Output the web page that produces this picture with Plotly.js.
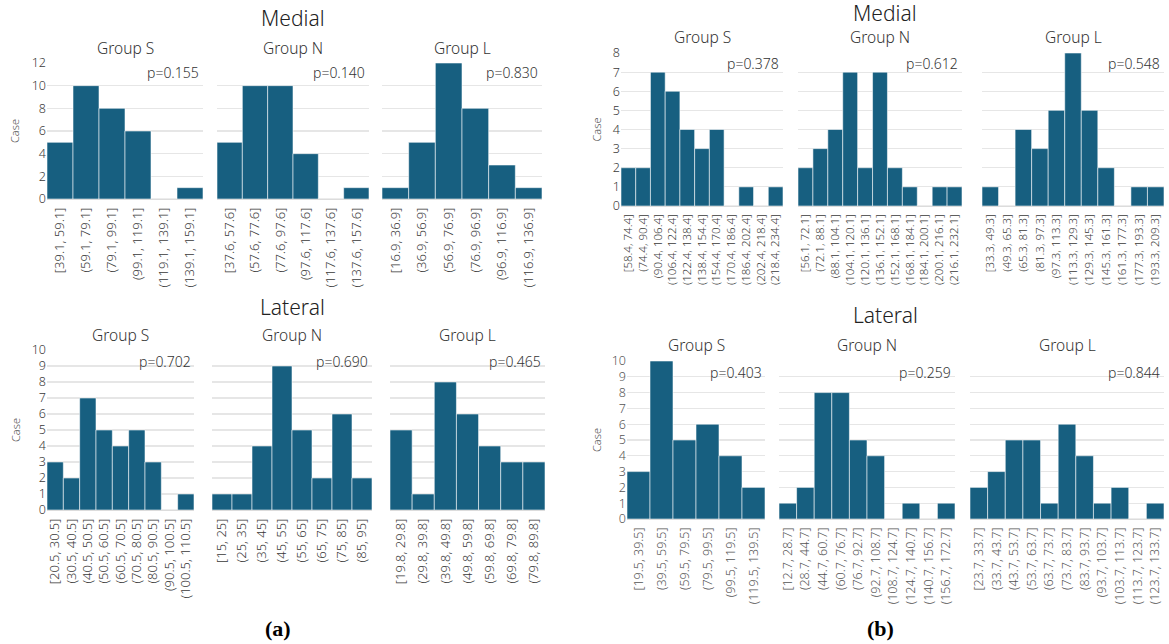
<!DOCTYPE html>
<html>
<head>
<meta charset="utf-8">
<script src="https://cdn.plot.ly/plotly-3.0.1.min.js"></script>
<style>html,body{margin:0;padding:0;background:#fff;}#chart{width:1169px;height:644px;}</style>
</head>
<body>
<div id="chart"></div>
<script>
// ---------- DATA ----------
// (a) Medial
const aMedS_bins = ["[39.1, 59.1]","(59.1, 79.1]","(79.1, 99.1]","(99.1, 119.1]","(119.1, 139.1]","(139.1, 159.1]"];
const aMedS_counts = [5,10,8,6,0,1];
const aMedN_bins = ["[37.6, 57.6]","(57.6, 77.6]","(77.6, 97.6]","(97.6, 117.6]","(117.6, 137.6]","(137.6, 157.6]"];
const aMedN_counts = [5,10,10,4,0,1];
const aMedL_bins = ["[16.9, 36.9]","(36.9, 56.9]","(56.9, 76.9]","(76.9, 96.9]","(96.9, 116.9]","(116.9, 136.9]"];
const aMedL_counts = [1,5,12,8,3,1];
const aMed_p = ["p=0.155","p=0.140","p=0.830"];
// (a) Lateral
const aLatS_bins = ["[20.5, 30.5]","(30.5, 40.5]","(40.5, 50.5]","(50.5, 60.5]","(60.5, 70.5]","(70.5, 80.5]","(80.5, 90.5]","(90.5, 100.5]","(100.5, 110.5]"];
const aLatS_counts = [3,2,7,5,4,5,3,0,1];
const aLatN_bins = ["[15, 25]","(25, 35]","(35, 45]","(45, 55]","(55, 65]","(65, 75]","(75, 85]","(85, 95]"];
const aLatN_counts = [1,1,4,9,5,2,6,2];
const aLatL_bins = ["[19.8, 29.8]","(29.8, 39.8]","(39.8, 49.8]","(49.8, 59.8]","(59.8, 69.8]","(69.8, 79.8]","(79.8, 89.8]"];
const aLatL_counts = [5,1,8,6,4,3,3];
const aLat_p = ["p=0.702","p=0.690","p=0.465"];
// (b) Medial
const bMedS_bins = ["[58.4, 74.4]","(74.4, 90.4]","(90.4, 106.4]","(106.4, 122.4]","(122.4, 138.4]","(138.4, 154.4]","(154.4, 170.4]","(170.4, 186.4]","(186.4, 202.4]","(202.4, 218.4]","(218.4, 234.4]"];
const bMedS_counts = [2,2,7,6,4,3,4,0,1,0,1];
const bMedN_bins = ["[56.1, 72.1]","(72.1, 88.1]","(88.1, 104.1]","(104.1, 120.1]","(120.1, 136.1]","(136.1, 152.1]","(152.1, 168.1]","(168.1, 184.1]","(184.1, 200.1]","(200.1, 216.1]","(216.1, 232.1]"];
const bMedN_counts = [2,3,4,7,2,7,2,1,0,1,1];
const bMedL_bins = ["[33.3, 49.3]","(49.3, 65.3]","(65.3, 81.3]","(81.3, 97.3]","(97.3, 113.3]","(113.3, 129.3]","(129.3, 145.3]","(145.3, 161.3]","(161.3, 177.3]","(177.3, 193.3]","(193.3, 209.3]"];
const bMedL_counts = [1,0,4,3,5,8,5,2,0,1,1];
const bMed_p = ["p=0.378","p=0.612","p=0.548"];
// (b) Lateral
const bLatS_bins = ["[19.5, 39.5]","(39.5, 59.5]","(59.5, 79.5]","(79.5, 99.5]","(99.5, 119.5]","(119.5, 139.5]"];
const bLatS_counts = [3,10,5,6,4,2];
const bLatN_bins = ["[12.7, 28.7]","(28.7, 44.7]","(44.7, 60.7]","(60.7, 76.7]","(76.7, 92.7]","(92.7, 108.7]","(108.7, 124.7]","(124.7, 140.7]","(140.7, 156.7]","(156.7, 172.7]"];
const bLatN_counts = [1,2,8,8,5,4,0,1,0,1];
const bLatL_bins = ["[23.7, 33.7]","(33.7, 43.7]","(43.7, 53.7]","(53.7, 63.7]","(63.7, 73.7]","(73.7, 83.7]","(83.7, 93.7]","(93.7, 103.7]","(103.7, 113.7]","(113.7, 123.7]","(123.7, 133.7]"];
const bLatL_counts = [2,3,5,5,1,6,4,1,2,0,1];
const bLat_p = ["p=0.403","p=0.259","p=0.844"];

const groupNames = ["Group S","Group N","Group L"];
const sectionTitles = ["Medial","Lateral"];
const panelLabels = ["(a)","(b)"];
const yLabel = "Case";

// ---------- LAYOUT (pixel geometry) ----------
const W = 1169, H = 644;
const FONT = "Noto Sans, sans-serif";
const BAR = "#175f80";

const rows = [
  {ypx:[63,199], ymax:12, dtick:2, xs:[[47,203],[217,369],[382,542]],
   data:[[aMedS_bins,aMedS_counts],[aMedN_bins,aMedN_counts],[aMedL_bins,aMedL_counts]], p:aMed_p,
   title:sectionTitles[0], titleY:18, titleX:293, groupY:48, tickSize:13, tickColor:"#3a3a3a"},
  {ypx:[350,510], ymax:10, dtick:1, xs:[[47,194],[212,372],[390,545]],
   data:[[aLatS_bins,aLatS_counts],[aLatN_bins,aLatN_counts],[aLatL_bins,aLatL_counts]], p:aLat_p,
   title:sectionTitles[1], titleY:307, titleX:292, groupY:335, tickSize:13, tickColor:"#3a3a3a"},
  {ypx:[53,206], ymax:8, dtick:1, xs:[[621,783],[798,962],[982,1164]],
   data:[[bMedS_bins,bMedS_counts],[bMedN_bins,bMedN_counts],[bMedL_bins,bMedL_counts]], p:bMed_p,
   title:sectionTitles[0], titleY:13, titleX:885, groupY:37, tickSize:11.5, tickColor:"#3a3a3a"},
  {ypx:[361,519], ymax:10, dtick:1, xs:[[627,765],[779,955],[970,1164]],
   data:[[bLatS_bins,bLatS_counts],[bLatN_bins,bLatN_counts],[bLatL_bins,bLatL_counts]], p:bLat_p,
   title:sectionTitles[1], titleY:315, titleX:885, groupY:345, tickSize:12.5, tickColor:"#555"}
];

const traces = [];
const layout = {
  width: W, height: H,
  margin: {l:0, r:0, t:0, b:0},
  paper_bgcolor: "#fff", plot_bgcolor: "#fff",
  showlegend: false,
  bargap: 0,
  font: {family: FONT, color: "#333", weight: "normal"},
  annotations: []
};

let k = 0;
rows.forEach((row, ri) => {
  const yd = [1 - row.ypx[1]/H, 1 - row.ypx[0]/H];
  row.xs.forEach((xp, ci) => {
    k++;
    const sfx = k === 1 ? "" : String(k);
    const [bins, counts] = row.data[ci];
    traces.push({
      type: "bar", x: bins, y: counts,
      xaxis: "x" + sfx, yaxis: "y" + sfx,
      marker: {color: BAR, line: {color: "rgba(255,255,255,0.55)", width: 1}},
      hoverinfo: "x+y"
    });
    layout["xaxis" + sfx] = {
      domain: [xp[0]/W, xp[1]/W], anchor: "y" + sfx, type: "category",
      tickmode: "array", tickvals: bins, ticktext: bins,
      tickangle: -90, showgrid: false, zeroline: false, showline: false,
      ticks: "", ticklen: 0, ticklabelstandoff: 5,
      tickfont: {size: row.tickSize, color: row.tickColor, family: FONT, weight: 300},
      fixedrange: true
    };
    layout["yaxis" + sfx] = {
      domain: yd, anchor: "x" + sfx, range: [0, row.ymax], dtick: row.dtick, tick0: 0,
      showgrid: true, gridcolor: "#e6e6e6", gridwidth: 1.2,
      zeroline: true, zerolinecolor: "#dcdcdc", zerolinewidth: 1.2,
      showline: false, ticks: "",
      showticklabels: ci === 0,
      tickfont: {size: 12.5, color: row.tickColor, family: FONT, weight: 300},
      fixedrange: true
    };
    layout.annotations.push({
      text: groupNames[ci], xref: "paper", yref: "paper",
      x: (xp[0] + xp[1]) / 2 / W, y: 1 - row.groupY / H,
      xanchor: "center", yanchor: "middle", showarrow: false,
      font: {size: 15.5, color: "#333", family: FONT, weight: 300}
    });
    layout.annotations.push({
      text: row.p[ci], xref: "x" + sfx + " domain", yref: "y" + sfx + " domain",
      x: 0.99, y: 0.93, xanchor: "right", yanchor: "middle", showarrow: false,
      font: {size: 14, color: "#333", family: FONT, weight: 300}
    });
  });
  layout.annotations.push({
    text: row.title, xref: "paper", yref: "paper",
    x: row.titleX / W, y: 1 - row.titleY / H,
    xanchor: "center", yanchor: "middle", showarrow: false,
    font: {size: 21, color: "#222", family: FONT, weight: 300}
  });
  layout.annotations.push({
    text: yLabel, xref: "paper", yref: "paper",
    x: (ri < 2 ? 15 : 596) / W, y: 1 - (row.ypx[0] + row.ypx[1]) / 2 / H,
    xanchor: "center", yanchor: "middle", textangle: -90, showarrow: false,
    font: {size: 11, color: "#555", family: FONT, weight: 300}
  });
});

[[278, panelLabels[0]], [880, panelLabels[1]]].forEach(([px, t]) => {
  layout.annotations.push({
    text: "<b>" + t + "</b>", xref: "paper", yref: "paper",
    x: px / W, y: 1 - 628 / H, xanchor: "center", yanchor: "middle", showarrow: false,
    font: {size: 22, color: "#000", family: "Liberation Serif, DejaVu Serif, serif"}
  });
});

Plotly.newPlot("chart", traces, layout, {staticPlot: true, displayModeBar: false});
</script>
</body>
</html>
